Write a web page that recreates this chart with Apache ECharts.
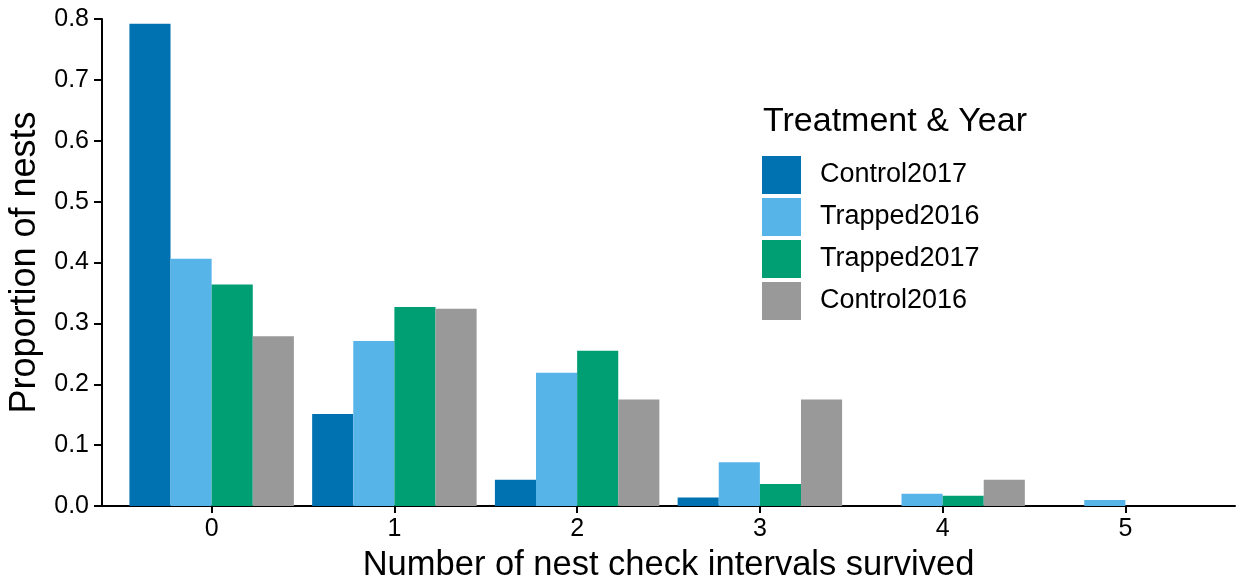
<!DOCTYPE html>
<html style="height: 100%">
  <head>
    <meta charset="UTF-8" />
    <title>Nest survival</title>
    <script src="https://cdn.jsdelivr.net/npm/echarts@6/dist/echarts.min.js"></script>
  </head>
  <body style="height: 100%; margin: 0; background: #fff">
    <div id="main" style="width: 1238px; height: 582px"></div>
    <script>
      // intervals survived (x) and proportion of nests per group
      var intervals = [0, 1, 2, 3, 4, 5];
      var groupNames = ['Control2017', 'Trapped2016', 'Trapped2017', 'Control2016'];
      var control2017 = [0.792, 0.151, 0.043, 0.014, 0, 0];
      var trapped2016 = [0.406, 0.271, 0.219, 0.072, 0.020, 0.010];
      var trapped2017 = [0.364, 0.327, 0.255, 0.036, 0.017, 0];
      var control2016 = [0.279, 0.324, 0.175, 0.175, 0.043, 0];
      var yTicks = [0, 0.1, 0.2, 0.3, 0.4, 0.5, 0.6, 0.7, 0.8];

      var colors = ['#0072B2', '#56B4E9', '#009E73', '#999999'];
      var font = 'Liberation Sans, Arial, sans-serif';
      var values = [control2017, trapped2016, trapped2017, control2016];

      var chart = echarts.init(document.getElementById('main'));

      var series = groupNames.map(function (name, i) {
        return {
          name: name,
          type: 'bar',
          barGap: '0%',
          barCategoryGap: '10%',
          itemStyle: { color: colors[i] },
          data: intervals.map(function (x, j) {
            return [x, values[i][j]];
          }),
        };
      });

      var option = {
        animation: false,
        textStyle: { fontFamily: font },
        title: {
          text: 'Treatment & Year',
          left: 763,
          top: 105,
          padding: 0,
          textStyle: { fontFamily: font, fontSize: 34, fontWeight: 'normal', color: '#000' },
        },
        legend: {
          data: groupNames,
          orient: 'vertical',
          left: 762,
          top: 156,
          padding: 0,
          itemWidth: 39,
          itemHeight: 38,
          itemGap: 4,
          icon: 'rect',
          textStyle: { fontFamily: font, fontSize: 27, color: '#000', padding: [0, 0, 0, 14] },
        },
        grid: { left: 102, right: 3, top: 19, bottom: 76, outerBoundsMode: 'none' },
        xAxis: {
          type: 'value',
          min: -0.6,
          max: 5.6,
          name: 'Number of nest check intervals survived',
          nameLocation: 'middle',
          nameGap: 42,
          nameTextStyle: { fontFamily: font, fontSize: 34.5, color: '#000' },
          axisLine: { show: true, onZero: false, lineStyle: { color: '#000', width: 2 } },
          axisTick: { show: true, length: 7, customValues: intervals, lineStyle: { color: '#000', width: 2 } },
          axisLabel: {
            customValues: intervals,
            margin: 11,
            fontSize: 25,
            color: '#000',
            formatter: function (v) { return String(v); },
          },
          splitLine: { show: false },
        },
        yAxis: {
          type: 'value',
          min: 0,
          max: 0.8,
          interval: 0.1,
          name: 'Proportion of nests',
          nameLocation: 'middle',
          nameGap: 51,
          nameTextStyle: { fontFamily: font, fontSize: 36, color: '#000' },
          axisLine: { show: true, onZero: false, lineStyle: { color: '#000', width: 2 } },
          axisTick: { show: true, length: 8, lineStyle: { color: '#000', width: 2 } },
          axisLabel: {
            customValues: yTicks,
            margin: 13,
            fontSize: 25,
            color: '#000',
            formatter: function (v) { return v.toFixed(1); },
          },
          splitLine: { show: false },
        },
        series: series,
      };

      chart.setOption(option);
    </script>
  </body>
</html>
